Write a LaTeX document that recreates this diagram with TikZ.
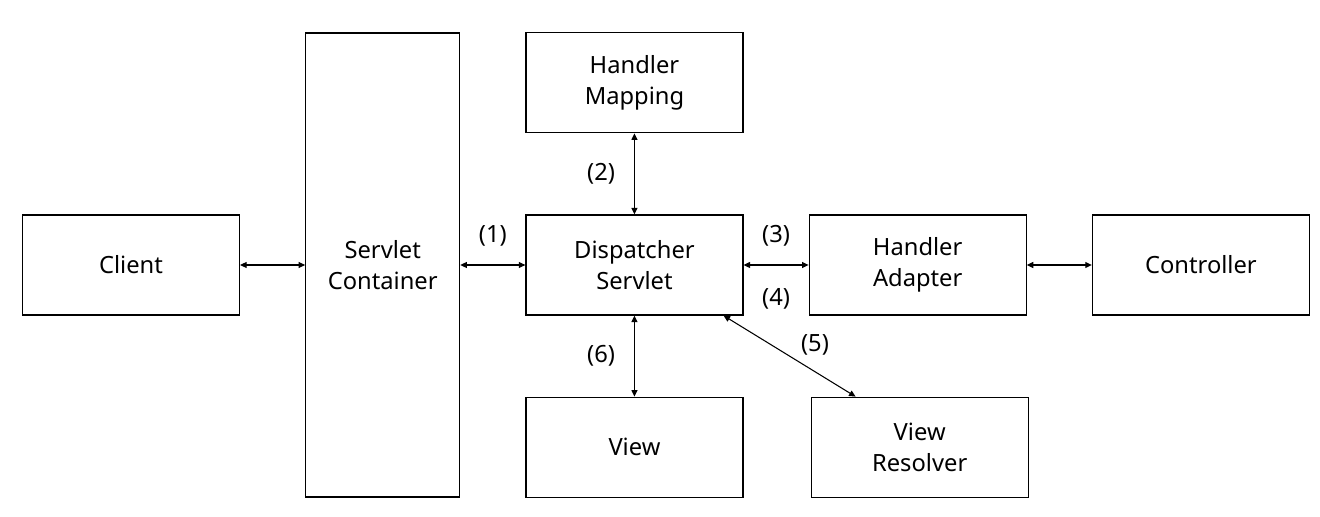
\documentclass[tikz,border=0pt]{standalone}
\usepackage{fontspec}
\setmainfont{Noto Sans}
\usetikzlibrary{arrows.meta, positioning}

\begin{document}
\begin{tikzpicture}[
    >={Triangle[length=1.3mm, width=1.2mm]},
    block/.style={draw, line width=0.7pt, minimum height=2cm, minimum width=4.34cm,
                  inner sep=0pt, align=center, font=\fontsize{13.5}{17.6}\selectfont},
    arrow/.style={<->, line width=0.6pt},
    label/.style={font=\fontsize{13.5}{15}\selectfont, inner sep=0pt}
]
    \useasboundingbox (0,0) rectangle (26.4,-10.34);

    % Client and container
    \node[block] (client) at (2.62,-5.3) {Client};
    \node[block, minimum width=3.08cm, minimum height=9.28cm, right=1.3cm of client] (container) {Servlet\\Container};

    % Dispatcher
    \node[block, right=1.3cm of container] (disp) {Dispatcher\\Servlet};

    % Above and below the dispatcher
    \node[block, above=1.62cm of disp] (mapping) {Handler\\Mapping};
    \node[block, below=1.62cm of disp] (view) {View};

    % Right side
    \node[block, right=1.3cm of disp] (adapter) {Handler\\Adapter};
    \node[block, right=1.3cm of adapter] (controller) {Controller};
    \node[block, below=1.62cm of adapter, xshift=0.04cm] (resolver) {View\\Resolver};

    % Arrows
    \draw[arrow] (client) -- (container);
    \draw[arrow] (container.east |- disp.west) -- (disp.west)
        node[label, midway, above=0.36cm] (l1) {(1)};
    \draw[arrow] (mapping) -- (disp)
        node[label, midway, left=0.38cm] (l2) {(2)};
    \draw[arrow] (disp) -- (adapter)
        node[label, midway, above=0.36cm] (l3) {(3)}
        node[label, midway, below=0.46cm] (l4) {(4)};
    \draw[arrow] (adapter) -- (controller);
    \draw[arrow] ([xshift=-0.4cm]disp.south east) -- ([xshift=0.9cm]resolver.north west)
        node[label, midway, above right=0cm and 0.22cm] (l5) {(5)};
    \draw[arrow] (disp) -- (view)
        node[label, midway, left=0.38cm] (l6) {(6)};
\end{tikzpicture}
\end{document}
